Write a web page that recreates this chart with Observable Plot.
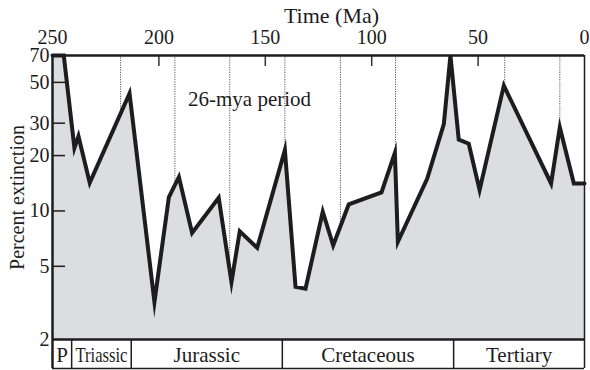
<!DOCTYPE html>
<html><head><meta charset="utf-8">
<script src="https://cdn.jsdelivr.net/npm/d3@7"></script>
<script src="https://cdn.jsdelivr.net/npm/@observablehq/plot@0.6"></script>
<style>
html,body{margin:0;padding:0;background:#fff;}
#chart svg, #chart svg text{font-family:"Liberation Serif","DejaVu Serif",serif !important;}
</style></head><body><div id="chart"></div>
<script>
// Data
const timeMa = [250, 244.7, 239.7, 237.8, 232.5, 213.8, 202.1, 195.3, 190.6, 184.4, 171.9, 165.9, 162, 153.8, 140.8, 135.8, 131.1, 123, 118.1, 110.8, 95.4, 89.1, 87.7, 73.9, 66.1, 63, 59.1, 54.4, 49.3, 37.9, 15.7, 11.6, 5.0, 0];
const extinction = [70, 70, 22, 25.5, 14.2, 43.5, 3.2, 11.9, 15.3, 7.6, 11.8, 4.1, 7.75, 6.3, 21.4, 3.87, 3.78, 9.9, 6.5, 10.85, 12.6, 20.7, 6.8, 15.0, 29.7, 70, 24.4, 23.2, 13.0, 48, 14.1, 28.5, 14.1, 14.1];
const periodLinesMa = [218, 192.5, 166.7, 140.8, 114.7, 88.8, 62.9, 37.5, 11.6];
const xTicks = [250, 200, 150, 100, 50, 0];
const yTicks = [2, 5, 10, 20, 30, 50, 70];
const eraNames = ["P", "Triassic", "Jurassic", "Cretaceous", "Tertiary"];
const eraBounds = [250, 241, 213, 142, 61.5, 0];
const titleText = "Time (Ma)";
const yLabelText = "Percent extinction";
const noteText = "26-mya period";

const data = timeMa.map((t, i) => ({t, v: extinction[i]}));
const eras = eraNames.map((name, i) => ({name, mid: (eraBounds[i] + eraBounds[i + 1]) / 2}));

const W = 590, H = 370, mT = 55, mB = 31, mL = 52, mR = 6;
const plotH = H - mT - mB;
const plotW = W - mL - mR;
const band = 29;
const ink = "#1e1c1d";
const ff = "'Liberation Serif', 'DejaVu Serif', serif";

const chart = Plot.plot({
  width: W, height: H, marginTop: mT, marginBottom: mB, marginLeft: mL, marginRight: mR,
  style: {fontFamily: ff, fontSize: "20px", color: ink, background: "#fff"},
  x: {domain: [250, 0], axis: null},
  y: {type: "log", domain: [2, 70], axis: null},
  marks: [
    Plot.ruleX(periodLinesMa, {x: d => d, stroke: "#555", strokeWidth: 1, strokeDasharray: "1.2,1.2"}),
    Plot.areaY(data, {x: "t", y1: 2, y2: "v", fill: "#dcdde0"}),
    Plot.line(data, {x: "t", y: "v", stroke: ink, strokeWidth: 4, strokeLinejoin: "miter", strokeMiterlimit: 10}),
    Plot.tickX(xTicks.slice(1, -1), {x: d => d, stroke: "#333", strokeWidth: 1.5, insetBottom: plotH - 11}),
    Plot.tickY(yTicks.slice(1, -1), {y: d => d, stroke: ink, strokeWidth: 1.5, insetRight: plotW - 13}),
    // frame
    Plot.ruleY([70], {y: d => d, stroke: ink, strokeWidth: 2.5}),
    Plot.ruleY([2], {y: d => d, stroke: ink, strokeWidth: 2.5}),
    Plot.ruleY([2], {y: d => d, stroke: ink, strokeWidth: 1.5, dy: band}),
    Plot.ruleX([250], {x: d => d, stroke: ink, strokeWidth: 2.5, insetBottom: -band}),
    Plot.ruleX([0], {x: d => d, stroke: ink, strokeWidth: 1.5, insetBottom: -band}),
    Plot.ruleX(eraBounds.slice(1, -1), {x: d => d, stroke: ink, strokeWidth: 1.5, insetTop: plotH, insetBottom: -band}),
    // tick labels
    Plot.text(xTicks, {x: d => d, text: d => String(d), frameAnchor: "top", lineAnchor: "bottom", dy: -12, fill: ink, fontSize: 20, fontFamily: ff}),
    Plot.text(yTicks, {y: d => d, text: d => String(d), frameAnchor: "left", textAnchor: "end", dx: -3, fill: ink, fontSize: 20, fontFamily: ff}),
    // era labels
    Plot.text(eras, {x: "mid", text: "name", frameAnchor: "bottom", lineAnchor: "bottom", dy: 22, fill: ink, fontSize: 21, fontFamily: ff}),
    // texts
    Plot.text([titleText], {text: d => d, frameAnchor: "top", textAnchor: "middle", lineAnchor: "bottom", dx: 13, dy: -33, fill: ink, fontSize: 22, fontFamily: ff}),
    Plot.text([yLabelText], {text: d => d, frameAnchor: "left", textAnchor: "middle", dx: -35, rotate: -90, fill: ink, fontSize: 20, fontFamily: ff}),
    Plot.text([noteText], {text: d => d, x: 157.4, y: 37.4, lineAnchor: "bottom", fill: ink, fontSize: 21, fontFamily: ff})
  ]
});
document.getElementById("chart").appendChild(chart);
// condense the narrow era label like the reference
chart.querySelectorAll("text").forEach(t => {
  if (t.textContent === "Triassic") { t.setAttribute("textLength", "52"); t.setAttribute("lengthAdjust", "spacingAndGlyphs"); }
});
</script>
</body></html>
